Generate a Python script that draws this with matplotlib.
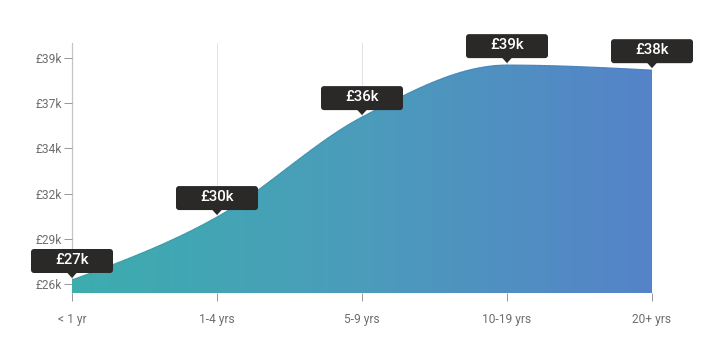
import numpy as np
import matplotlib
matplotlib.use("Agg")
import matplotlib.pyplot as plt
import matplotlib.transforms as mtransforms
from matplotlib.colors import LinearSegmentedColormap
from matplotlib.patches import Polygon, FancyBboxPatch
from matplotlib.collections import LineCollection

# experience bands and salary (GBP)
categories = ["< 1 yr", "1-4 yrs", "5-9 yrs", "10-19 yrs", "20+ yrs"]
salary = [26530, 30150, 35900, 38890, 38600]
salary_labels = ["£27k", "£30k", "£36k", "£39k", "£38k"]

ytick_vals = [26300, 28900, 31500, 34100, 36700, 39300]
ytick_labels = ["£26k", "£29k", "£32k", "£34k", "£37k", "£39k"]

plt.rcParams['font.family'] = ['Roboto', 'DejaVu Sans']

DPI = 72
fig = plt.figure(figsize=(713 / DPI, 357 / DPI), dpi=DPI)
ax = fig.add_axes([72 / 713, 64 / 357, 580 / 713, 250 / 357])


def monotone(x, y, n=60):
    # d3 curveMonotoneX style interpolation, used only to draw the smooth edge
    x = np.asarray(x, float)
    y = np.asarray(y, float)
    h = np.diff(x)
    s = np.diff(y) / h
    t = np.zeros(len(x))
    for i in range(1, len(x) - 1):
        p = (s[i - 1] * h[i] + s[i] * h[i - 1]) / (h[i - 1] + h[i])
        t[i] = (np.sign(s[i - 1]) + np.sign(s[i])) * min(abs(s[i - 1]), abs(s[i]), 0.5 * abs(p))
    t[0] = (3 * s[0] - t[1]) / 2
    t[-1] = (3 * s[-1] - t[-2]) / 2
    xs, ys = [], []
    for i in range(len(x) - 1):
        u = np.linspace(0, 1, n, endpoint=(i == len(x) - 2))
        h00 = 2 * u**3 - 3 * u**2 + 1
        h10 = u**3 - 2 * u**2 + u
        h01 = -2 * u**3 + 3 * u**2
        h11 = u**3 - u**2
        xs.append(x[i] + u * h[i])
        ys.append(h00 * y[i] + h10 * h[i] * t[i] + h01 * y[i + 1] + h11 * h[i] * t[i + 1])
    return np.concatenate(xs), np.concatenate(ys)


xpos = np.arange(len(categories))
ymin, ymax = 25782, 40163
ax.set_xlim(0, len(categories) - 1)
ax.set_ylim(ymin, ymax)

# vertical grid
for xv in xpos[1:]:
    ax.axvline(xv, color="#e2e2e2", lw=1, zorder=0)

cx, cy = monotone(xpos, salary)
verts = np.vstack([np.column_stack([cx, cy]), [[cx[-1], ymin], [cx[0], ymin]]])
poly = Polygon(verts, closed=True, facecolor="none", edgecolor="none")
ax.add_patch(poly)

cmap = LinearSegmentedColormap.from_list("grad", ["#3cadae", "#4b9cbb", "#5583c9"])
grad = np.linspace(0, 1, 256).reshape(1, -1)
img = ax.imshow(grad, cmap=cmap, aspect="auto", extent=[0, len(categories) - 1, ymin, ymax],
                zorder=2, interpolation="bilinear")
img.set_clip_path(poly)

# slightly darker edge along the top
pts = np.column_stack([cx, cy]).reshape(-1, 1, 2)
segs = np.concatenate([pts[:-1], pts[1:]], axis=1)
edge_cmap = LinearSegmentedColormap.from_list("edge", ["#35a0a4", "#4a7cc0"])
lc = LineCollection(segs, cmap=edge_cmap, linewidth=1.2, zorder=3)
lc.set_array(cx[:-1] / cx.max())
ax.add_collection(lc)

# axes styling
for sp in ["top", "right", "bottom"]:
    ax.spines[sp].set_visible(False)
ax.spines["left"].set_color("#c4c4c4")
ax.spines["left"].set_linewidth(1.2)
ax.spines["left"].set_zorder(1)

ax.set_xticks(xpos)
ax.set_xticklabels(categories)
ax.set_yticks(ytick_vals)
ax.set_yticklabels(ytick_labels)
ax.tick_params(axis="x", length=8, width=1, color="#999999", pad=12, labelsize=12, labelcolor="#6e6e6e")
ax.tick_params(axis="y", length=8, width=1, color="#999999", pad=2, labelsize=12, labelcolor="#6e6e6e")

# callout boxes
box_w, box_h, gap, tri = 82, 24, 7, 5
for xv, yv, lab in zip(xpos, salary, salary_labels):
    tr = (mtransforms.Affine2D().scale(1 / DPI) + fig.dpi_scale_trans +
          mtransforms.ScaledTranslation(xv, yv, ax.transData))
    box = FancyBboxPatch((-box_w / 2, gap), box_w, box_h,
                         boxstyle="round,pad=0,rounding_size=3",
                         transform=tr, facecolor="#2b2828", edgecolor="none",
                         zorder=5, clip_on=False)
    ax.add_patch(box)
    arrow = Polygon([[-tri, gap + 0.5], [tri, gap + 0.5], [0, gap - tri]], closed=True,
                    transform=tr, facecolor="#2b2828", edgecolor="none", zorder=5, clip_on=False)
    ax.add_patch(arrow)
    ax.annotate(lab, (xv, yv), xytext=(0, gap + box_h / 2 + 1), textcoords="offset points",
                ha="center", va="center", color="white", fontsize=15, fontweight="medium",
                zorder=6, annotation_clip=False)

fig.savefig("out.png", dpi=DPI, facecolor="white")
